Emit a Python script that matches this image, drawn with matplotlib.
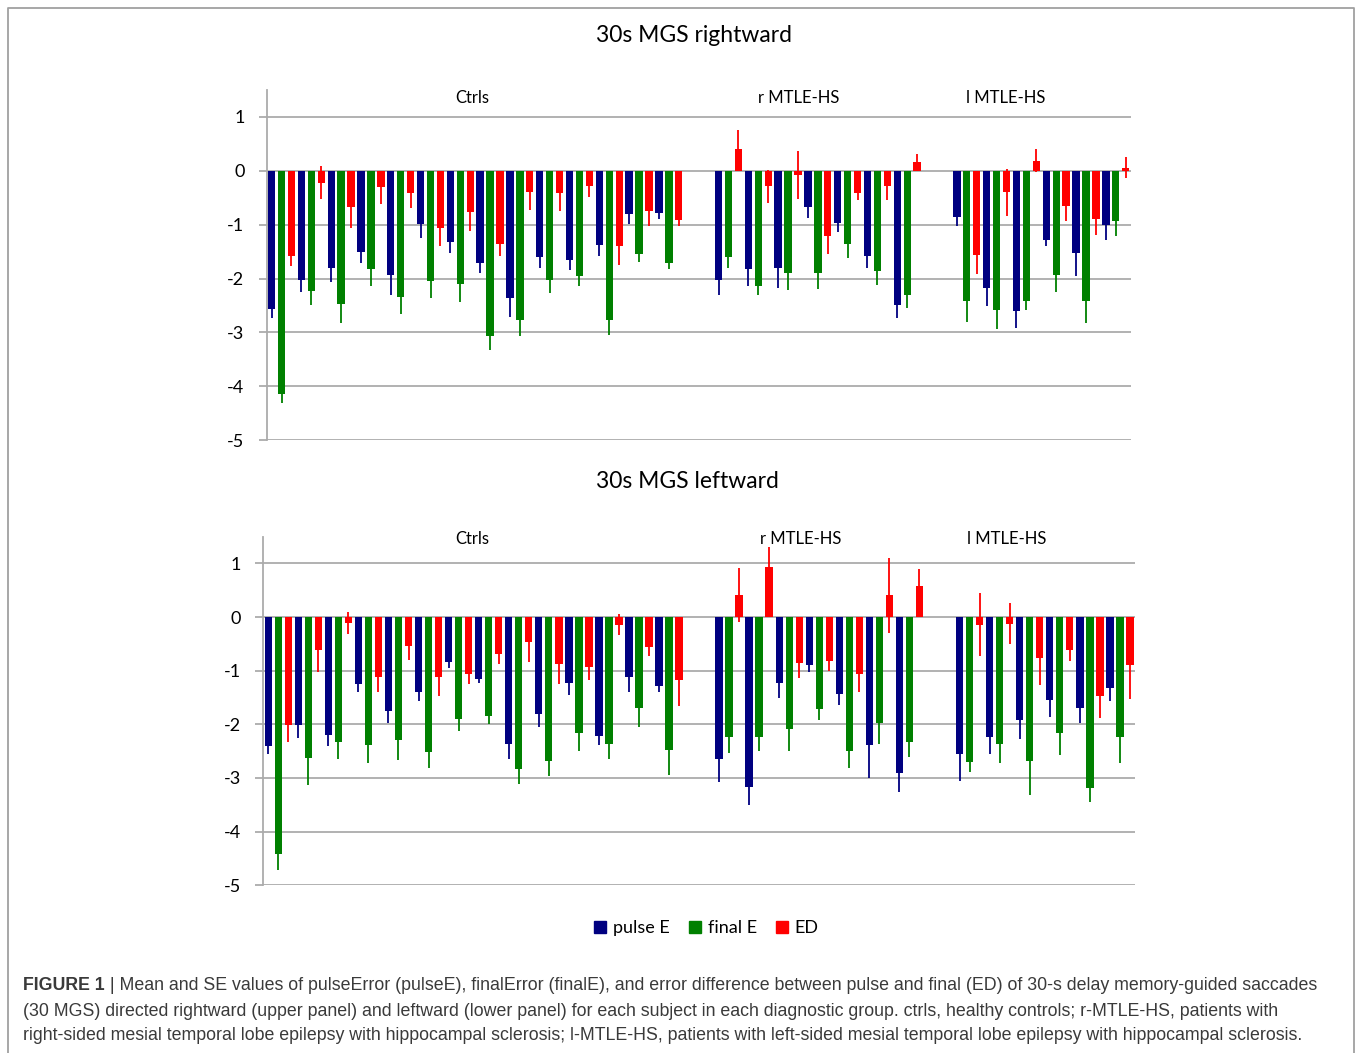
import matplotlib.pyplot as plt
from matplotlib.lines import Line2D
import numpy as np

plt.rcParams['font.family'] = ['Lato', 'DejaVu Sans']
plt.rcParams['axes.unicode_minus'] = False

# groups and number of subjects in each
groups = ['Ctrls', 'r MTLE-HS', 'l MTLE-HS']
group_n = [14, 7, 6]
series = ['pulse E', 'final E', 'ED']
colors = ['#000080', '#008000', '#FF0000']

# 30s MGS rightward (means and SE, subjects in group order)
right_pulse = [-2.56, -2.02, -1.81, -1.51, -1.94, -0.99, -1.33, -1.72, -2.36, -1.60, -1.65, -1.37, -0.80, -0.78,
               -2.02, -1.83, -1.80, -0.67, -0.96, -1.58, -2.49,
               -0.85, -2.18, -2.60, -1.28, -1.52, -1.01]
right_pulse_se = [0.18, 0.23, 0.25, 0.21, 0.36, 0.26, 0.19, 0.18, 0.36, 0.20, 0.20, 0.22, 0.19, 0.12,
                  0.29, 0.30, 0.37, 0.21, 0.18, 0.23, 0.25,
                  0.18, 0.33, 0.31, 0.11, 0.44, 0.27]
right_final = [-4.14, -2.23, -2.48, -1.82, -2.35, -2.05, -2.10, -3.07, -2.77, -2.02, -1.95, -2.77, -1.55, -1.71,
               -1.60, -2.13, -1.89, -1.89, -1.36, -1.86, -2.31,
               -2.41, -2.58, -2.41, -1.93, -2.42, -0.93]
right_final_se = [0.16, 0.26, 0.34, 0.31, 0.30, 0.31, 0.33, 0.26, 0.30, 0.24, 0.18, 0.27, 0.14, 0.12,
                  0.20, 0.18, 0.33, 0.31, 0.26, 0.26, 0.23,
                  0.40, 0.35, 0.18, 0.32, 0.41, 0.28]
right_ed = [-1.59, -0.22, -0.67, -0.31, -0.41, -1.06, -0.77, -1.36, -0.40, -0.42, -0.29, -1.40, -0.75, -0.91,
            0.41, -0.29, -0.08, -1.21, -0.41, -0.28, 0.17,
            -1.56, -0.40, 0.19, -0.66, -0.89, 0.06]
right_ed_se = [0.18, 0.30, 0.39, 0.30, 0.28, 0.34, 0.35, 0.22, 0.33, 0.33, 0.20, 0.35, 0.27, 0.11,
               0.34, 0.30, 0.45, 0.34, 0.14, 0.27, 0.14,
               0.35, 0.44, 0.21, 0.28, 0.31, 0.19]

# 30s MGS leftward
left_pulse = [-2.40, -2.02, -2.20, -1.25, -1.75, -1.39, -0.83, -1.15, -2.37, -1.81, -1.22, -2.21, -1.12, -1.28,
              -2.64, -3.17, -1.23, -0.90, -1.43, -2.38, -2.90,
              -2.56, -2.24, -1.92, -1.54, -1.69, -1.33]
left_pulse_se = [0.15, 0.23, 0.20, 0.15, 0.22, 0.17, 0.12, 0.08, 0.28, 0.24, 0.24, 0.18, 0.28, 0.12,
                 0.44, 0.33, 0.28, 0.12, 0.21, 0.62, 0.36,
                 0.49, 0.32, 0.36, 0.33, 0.28, 0.24]
left_final = [-4.42, -2.63, -2.32, -2.38, -2.30, -2.51, -1.90, -1.85, -2.84, -2.68, -2.17, -2.36, -1.69, -2.47,
              -2.23, -2.23, -2.08, -1.71, -2.49, -1.97, -2.32,
              -2.70, -2.37, -2.69, -2.16, -3.18, -2.23]
left_final_se = [0.29, 0.50, 0.32, 0.34, 0.37, 0.30, 0.22, 0.15, 0.28, 0.28, 0.32, 0.29, 0.36, 0.47,
                 0.30, 0.26, 0.42, 0.20, 0.33, 0.39, 0.29,
                 0.19, 0.35, 0.62, 0.41, 0.27, 0.50]
left_ed = [-2.02, -0.61, -0.11, -1.12, -0.54, -1.11, -1.07, -0.69, -0.47, -0.87, -0.94, -0.14, -0.56, -1.18,
           0.41, 0.93, -0.86, -0.81, -1.06, 0.41, 0.57,
           -0.14, -0.12, -0.76, -0.61, -1.47, -0.89]
left_ed_se = [0.31, 0.42, 0.21, 0.27, 0.26, 0.36, 0.18, 0.18, 0.37, 0.38, 0.24, 0.20, 0.17, 0.48,
              0.51, 0.37, 0.27, 0.19, 0.34, 0.70, 0.33,
              0.59, 0.38, 0.51, 0.20, 0.42, 0.63]

yticks = [1, 0, -1, -2, -3, -4, -5]

# one empty subject slot between groups, three bars per subject
slots = np.concatenate([np.arange(n) + sum(group_n[:g]) + g for g, n in enumerate(group_n)])
n_cat = 3 * (sum(group_n) + len(group_n) - 1)

W, H = 1359, 1053
fig = plt.figure(figsize=(W / 100, H / 100), dpi=100)

grid_c = '#ababab'


def panel(rect, title, vals, errs, label_x, label_y, title_xy):
    ax = fig.add_axes(rect)
    for k in range(3):
        x = 3 * slots + k
        ax.bar(x, vals[k], width=0.74, color=colors[k], zorder=2)
        ax.errorbar(x, vals[k], yerr=errs[k], fmt='none', ecolor=colors[k],
                    elinewidth=1.3, capsize=0, zorder=3)
    ax.set_xlim(-0.5, n_cat - 0.5)
    ax.set_ylim(-5, 1.5)
    ax.set_yticks(yticks)
    ax.set_yticklabels([str(t) for t in yticks])
    ax.set_xticks([])
    ax.yaxis.grid(True, color=grid_c, lw=1.3, zorder=0)
    ax.set_axisbelow(True)
    for s in ['top', 'right', 'bottom']:
        ax.spines[s].set_visible(False)
    ax.spines['left'].set_color(grid_c)
    ax.spines['left'].set_linewidth(1.3)
    ax.tick_params(axis='y', length=6, width=1.3, color=grid_c, labelsize=13, pad=10)
    for g, lx in zip(groups, label_x):
        ax.text(lx, label_y, g, transform=ax.get_xaxis_transform(), ha='center', va='center', fontsize=12)
    fig.text(title_xy[0], title_xy[1], title, ha='center', va='center', fontsize=16.5)
    return ax


panel([0.1962, 0.5819, 0.6358, 0.3327], '30s MGS rightward',
      [right_pulse, right_final, right_ed], [right_pulse_se, right_final_se, right_ed_se],
      [20.2, 53.1, 73.9], 0.976, (694 / W, 1 - 35 / H))
panel([0.1937, 0.1593, 0.6414, 0.3311], '30s MGS leftward',
      [left_pulse, left_final, left_ed], [left_pulse_se, left_final_se, left_ed_se],
      [20.4, 53.1, 73.7], 0.994, (687 / W, 1 - 481 / H))

handles = [Line2D([], [], ls='', marker='s', markersize=8.5, color=c) for c in colors]
fig.legend(handles, series, loc='center', bbox_to_anchor=(706 / W, 1 - 928 / H), ncol=3,
           frameon=False, fontsize=13, handlelength=0.8, handletextpad=0.3, columnspacing=1.0)

# outer frame
fx = [8 / W, 8 / W, 1354 / W, 1354 / W]
fy = [0, 1 - 8 / H, 1 - 8 / H, 0]
fig.add_artist(Line2D(fx, fy, transform=fig.transFigure, color='#a0a0a0', lw=1.3))

# caption
cap_c = '#3a3a3a'
cap_font = 'Liberation Sans'
cap_size = 12.8
lines = [
    ' | Mean and SE values of pulseError (pulseE), finalError (finalE), and error difference between pulse and final (ED) of 30-s delay memory-guided saccades',
    '(30 MGS) directed rightward (upper panel) and leftward (lower panel) for each subject in each diagnostic group. ctrls, healthy controls; r-MTLE-HS, patients with',
    'right-sided mesial temporal lobe epilepsy with hippocampal sclerosis; l-MTLE-HS, patients with left-sided mesial temporal lobe epilepsy with hippocampal sclerosis.',
]
t0 = fig.text(23 / W, 1 - 986 / H, 'FIGURE 1', fontsize=cap_size, fontweight='bold', family=cap_font,
              color=cap_c, va='center')
fig.add_artist(plt.Annotation(lines[0], xy=(1, 0.5), xycoords=t0, va='center', ha='left',
                              fontsize=cap_size, family=cap_font, color=cap_c))
fig.text(23 / W, 1 - 1011 / H, lines[1], fontsize=cap_size, family=cap_font, color=cap_c, va='center')
fig.text(23 / W, 1 - 1036 / H, lines[2], fontsize=cap_size, family=cap_font, color=cap_c, va='center')

fig.savefig('out.png', dpi=100)
